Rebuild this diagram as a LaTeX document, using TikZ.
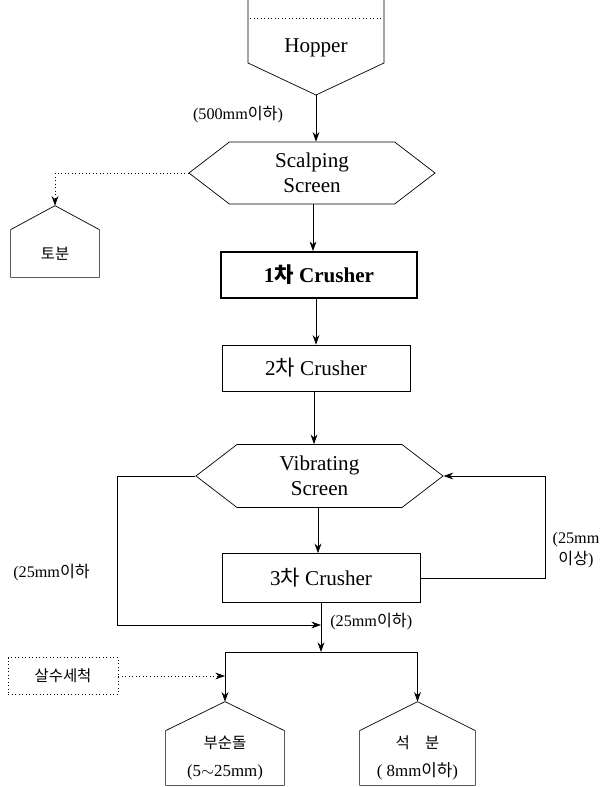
\documentclass[tikz,border=0pt]{standalone}
\usepackage{fontspec}
\setmainfont{Liberation Serif}
\newfontfamily\kr{Noto Sans CJK KR}
\usepackage{tikz}
\usetikzlibrary{arrows.meta,calc,positioning,shapes.symbols}
\newcommand{\roof}[2]{\draw (#1.south west) -- (#1.north west) -- ($(#1.north)+(0,-#2)$) coordinate (#1-top) -- (#1.north east) -- (#1.south east) -- cycle;}

\begin{document}
\begin{tikzpicture}[x=0.025cm,y=-0.025cm,font=\fontsize{15}{18}\selectfont,
	every path/.style={line width=0.5pt},
	every text node part/.style={align=center},
	flow/.style={-{Stealth[length=2.4mm,width=1.7mm]}},
	wash/.style={flow,dotted},
	screen/.style={draw,signal,signal to=west and east,signal pointer angle=75,inner sep=0pt,minimum width=6.175cm,minimum height=1.575cm},
	crusher/.style={draw,rectangle,inner sep=0pt,minimum height=1.15cm},
	bin/.style={rectangle,inner sep=0pt,minimum height=1.35cm},
	note/.style={font=\fontsize{11.5}{15}\selectfont,inner sep=0pt}]
	\useasboundingbox (0,0) rectangle (605,787);

	% hopper
	\draw (248,0) -- (248,63) -- (316,95) -- (384,63) -- (384,0);
	\draw[dotted] (250,18) -- (382,18);
	\node (hopper) at (316,48) {Hopper};
	\coordinate (hop) at (316,95);

	\node (scalp) at (312,173) [screen,minimum width=6.15cm,minimum height=1.55cm] {Scalping\\Screen};
	\node (soil) at (55,253.5) [bin,minimum width=2.2cm,minimum height=1.175cm] {{\kr\fontsize{11}{14}\selectfont 토분}};
	\node (cr1) at (319,275) [crusher,line width=1.3pt,minimum width=4.9cm] {\bfseries 1{\kr 차} Crusher};
	\node (cr2) at (316,368) [crusher,minimum width=4.7cm] {2{\kr 차} Crusher};
	\node (vib) at (319.5,476) [screen] {Vibrating\\Screen};
	\node (cr3) at (321,578) [crusher,minimum width=4.95cm,minimum height=1.225cm] {3{\kr 차} Crusher};
	\node (spray) at (63,676) [draw,dotted,minimum width=2.75cm,minimum height=0.925cm,inner sep=0pt] {{\kr\fontsize{11}{14}\selectfont 살수세척}};
	\node (gravel) at (225,758) [bin,minimum width=2.95cm] {{\kr\fontsize{11}{14}\selectfont 부순돌}\\[2pt]{\fontsize{12}{14}\selectfont (5$\sim$25mm)}};
	\node (dust) at (417.5,758) [bin,minimum width=2.875cm] {{\kr\fontsize{11}{14}\selectfont 석\quad 분}\\[2pt]{\fontsize{12}{14}\selectfont ( 8mm{\kr 이하})}};
	\roof{soil}{24}
	\roof{gravel}{29}
	\roof{dust}{29}

	\coordinate (join) at (cr3.south |- 0,652);
	\coordinate (merge) at (cr3.south |- 0,625);

	\draw[flow] (hop) -- (hop |- scalp.north);
	\draw[wash] (scalp.west) -| (soil-top);
	\draw[flow] (scalp.south -| 313,0) -- (cr1.north -| 313,0);
	\draw[flow] (cr1.south -| 316,0) -- (cr2.north -| 316,0);
	\draw[flow] (cr2.south -| 314,0) -- (vib.north -| 314,0);
	\draw[flow] (vib.south -| 318,0) -- (cr3.north -| 318,0);
	\draw[flow] (cr3.east) -| (545,476) -- (vib.east);
	\draw[flow] (vib.west) -| (117,625) -- (merge);
	\draw[flow] (cr3.south) -- (join);
	\draw (gravel-top |- join) -- (dust-top |- join);
	\draw[flow] (gravel-top |- join) -- (gravel-top);
	\draw[flow] (dust-top |- join) -- (dust-top);
	\draw[wash] (spray.east) -- (spray.east -| gravel-top);

	\node[note] (l500) at (238,115) {(500mm{\kr 이하})};
	\node[note,anchor=west] (l25a) at (13,573) {(25mm{\kr 이하}};
	\node[note] (l25b) at (576,550) {(25mm\\{\kr 이상})};
	\node[note,anchor=west] (l25c) at (330,622) {(25mm{\kr 이하})};
\end{tikzpicture}
\end{document}
